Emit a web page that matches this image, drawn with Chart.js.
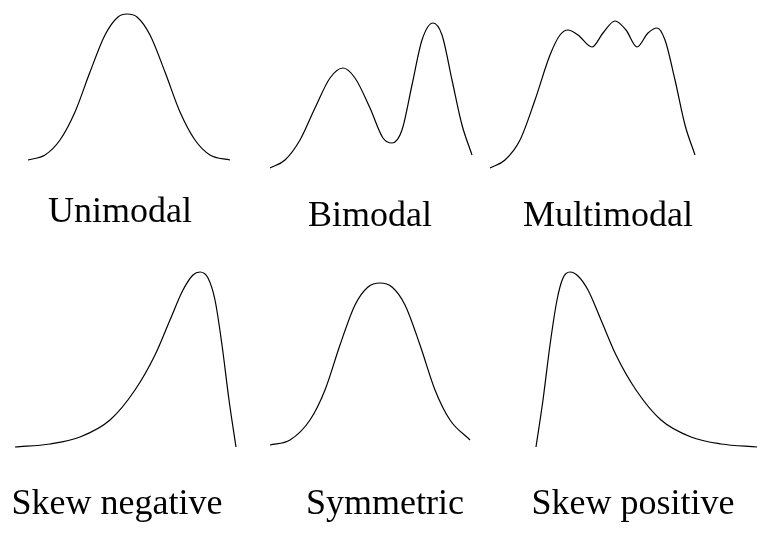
<!DOCTYPE html>
<html><head><meta charset="utf-8">
<script src="https://cdn.jsdelivr.net/npm/chart.js@4"></script>
<style>html,body{margin:0;padding:0;background:#fff}#w{width:768px;height:533px}</style>
</head><body><div id="w"><canvas id="c"></canvas></div>
<script>
const unimodalX=[28,45,60,75,90,105,118,127,137,150,165,180,195,210,230];
const unimodalY=[160,155,140,112,72,35,17,14,17,35,72,112,140,155,160];
const bimodalX=[270,285,300,315,330,343,355,370,383,392,402,412,422,433,442,452,462,472];
const bimodalY=[168,160,140,108,78,68,78,108,138,143,130,85,40,23,35,80,125,155];
const multiX=[490,505,520,535,550,560,568,578,592,603,615,626,637,648,657,665,675,685,695];
const multiY=[168,160,140,100,55,35,30,35,47,33,21,30,47,33,28,40,80,125,155];
const negX=[15,50,80,110,135,155,170,183,193,200,208,215,222,229,236];
const negY=[447,444,437,420,390,355,320,290,275,272,278,300,345,400,447];
const symX=[270,290,310,325,340,355,368,380,392,405,420,435,450,470];
const symY=[445,440,420,390,345,305,287,283,287,305,345,390,420,440];
const posX=[536,543,550,557,563,570,578,588,601,616,636,661,691,721,757];
const posY=[447,400,345,300,278,272,276,290,320,355,390,420,437,444,447];
const labels=["Unimodal","Bimodal","Multimodal","Skew negative","Symmetric","Skew positive"];
const labelX=[120,370,608,117,385,633];
const labelY=[213,217,217,505,505,505];
const series=[[unimodalX,unimodalY],[bimodalX,bimodalY],[multiX,multiY],[negX,negY],[symX,symY],[posX,posY]];
const textPlugin={id:'t',afterDatasetsDraw(ch){const c=ch.ctx,sx=ch.scales.x,sy=ch.scales.y;c.save();c.fillStyle='#000';c.font='36px "Liberation Serif"';c.textAlign='center';c.textBaseline='middle';labels.forEach((l,i)=>c.fillText(l,sx.getPixelForValue(labelX[i]),sy.getPixelForValue(labelY[i])));c.restore();}};
new Chart(document.getElementById('c'),{type:'scatter',
data:{datasets:series.map(s=>({data:s[0].map((x,i)=>({x,y:s[1][i]})),showLine:true,borderColor:'#000',borderWidth:1.2,pointRadius:0,tension:0.4,cubicInterpolationMode:'monotone',fill:false}))},
options:{responsive:true,maintainAspectRatio:false,animation:false,layout:{padding:0},
plugins:{legend:{display:false},tooltip:{enabled:false}},
scales:{x:{type:'linear',min:0,max:768,display:false},y:{type:'linear',min:0,max:533,reverse:true,display:false}}},
plugins:[textPlugin]});
</script></body></html>
